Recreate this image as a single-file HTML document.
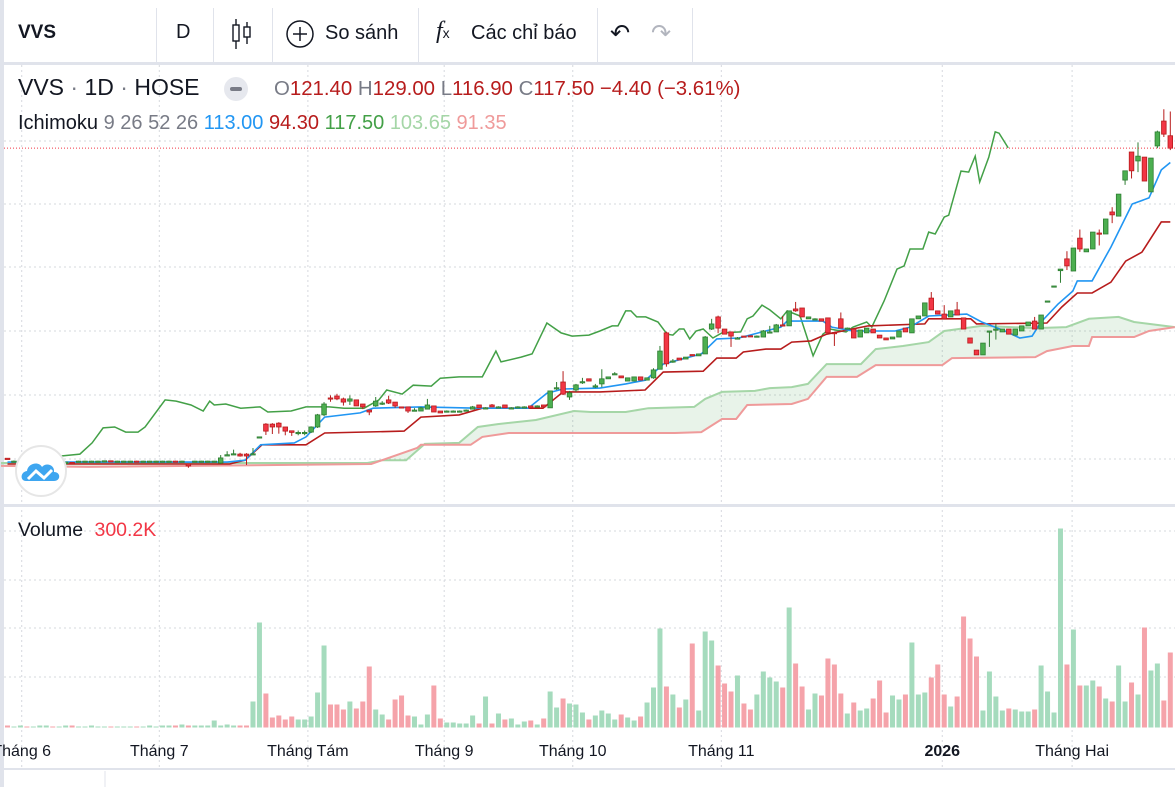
<!DOCTYPE html>
<html><head><meta charset="utf-8">
<style>
html,body{margin:0;padding:0;background:#fff;width:1175px;height:787px;overflow:hidden;font-family:"Liberation Sans","Noto Sans CJK SC",sans-serif;color:#131722}
#wrap{position:relative;width:1175px;height:787px}
.tb{position:absolute;top:0;left:0;width:1175px;height:62px;border-bottom:3px solid #e0e3eb}
.sep{position:absolute;top:8px;width:1px;height:54px;background:#e0e3eb}
.t{position:absolute;white-space:nowrap}
#leftstrip{position:absolute;left:0;top:0;width:4px;height:787px;background:#e0e3eb}
</style></head><body>
<div id="wrap">
<div class="tb">
  <div class="t" style="left:18px;top:22px;font-size:19px;font-weight:bold">VVS</div>
  <div class="sep" style="left:156px"></div>
  <div class="t" style="left:176px;top:21px;font-size:20px">D</div>
  <div class="sep" style="left:213px"></div>
  <svg class="t" style="left:230px;top:18px" width="24" height="32"><line x1="6" y1="1" x2="6" y2="31" stroke="#131722" stroke-width="1.4"/><rect x="3" y="7" width="6" height="16" fill="#fff" stroke="#131722" stroke-width="1.4"/><line x1="17" y1="4" x2="17" y2="26" stroke="#131722" stroke-width="1.4"/><rect x="14" y="9" width="6" height="10" fill="#fff" stroke="#131722" stroke-width="1.4"/></svg>
  <div class="sep" style="left:272px"></div>
  <svg class="t" style="left:285px;top:20px" width="30" height="30"><circle cx="15" cy="14" r="13" fill="none" stroke="#131722" stroke-width="1.5"/><line x1="15" y1="7" x2="15" y2="21" stroke="#131722" stroke-width="1.5"/><line x1="8" y1="14" x2="22" y2="14" stroke="#131722" stroke-width="1.5"/></svg>
  <div class="t" style="left:325px;top:22px;font-size:20px">So sánh</div>
  <div class="sep" style="left:418px"></div>
  <div class="t" style="left:436px;top:18px;font-size:24px;font-family:'Liberation Serif',serif;font-style:italic">f<span style="font-size:14px;font-style:normal;font-family:'Liberation Sans',sans-serif">x</span></div>
  <div class="t" style="left:471px;top:22px;font-size:20px">Các chỉ báo</div>
  <div class="sep" style="left:597px"></div>
  <div class="t" style="left:610px;top:19px;font-size:24px;color:#131722">↶</div>
  <div class="t" style="left:651px;top:19px;font-size:24px;color:#b2b5be">↷</div>
  <div class="sep" style="left:692px"></div>
</div>
<div id="leftstrip"></div>
<svg id="chart" width="1175" height="787" style="position:absolute;left:0;top:0"></svg>
<div class="t" style="left:18px;top:74px;font-size:23px">VVS<span style="color:#787b86"> · </span>1D<span style="color:#787b86"> · </span>HOSE</div>
<div class="t" style="left:224px;top:77px;width:24px;height:24px;border-radius:12px;background:#e6e8ee"><div style="position:absolute;left:6px;top:10px;width:12px;height:4px;border-radius:2px;background:#787b86"></div></div>
<div class="t" style="left:274px;top:78px;font-size:20.4px;color:#b71c1c"><span style="color:#787b86">O</span>121.40 <span style="color:#787b86">H</span>129.00 <span style="color:#787b86">L</span>116.90 <span style="color:#787b86">C</span>117.50 −4.40 (−3.61%)</div>
<div class="t" style="left:18px;top:112px;font-size:20px">Ichimoku <span style="color:#787b86">9 26 52 26</span> <span style="color:#2196f3">113.00</span> <span style="color:#b71c1c">94.30</span> <span style="color:#43a047">117.50</span> <span style="color:#a5d6a7">103.65</span> <span style="color:#ef9a9a">91.35</span></div>
<div class="t" style="left:18px;top:519px;font-size:19.5px">Volume <span style="color:#f23645;margin-left:6px">300.2K</span></div>
<div class="t" style="left:15px;top:445px;width:48px;height:48px;border-radius:26px;background:#fff;border:2px solid #e6e6e6">
<svg width="48" height="48"><path d="M9 34 C3 34 3 25 10 24 C11 16 22 14 25 20 C29 15 38 18 37 25 C44 25 44 34 37 34 Z" fill="#3ea6f0"/><polyline points="11,32 19,24 27,31 35,23" fill="none" stroke="#fff" stroke-width="3"/></svg></div>
</div>
<script>
// ---- data ----
const opens=[20.3,19.4,19.4,19.5,19.3,19.4,19.4,19.5,19.4,18.6,19.0,19.4,19.4,19.3,19.4,19.4,19.5,19.4,19.4,19.4,19.4,19.3,19.4,19.4,19.4,19.4,19.4,19.3,18.5,19.3,19.4,19.3,19.4,
18.8,21.0,21.4,21.6,21.6,21.4,26.9,31.0,31.0,31.3,30.1,28.9,28.0,28.0,28.5,30.1,33.9,39.2,39.8,38.9,38.2,38.6,37.3,35.4,36.7,37.6,38.6,37.9,36.4,36.4,35.4,35.1,35.7,36.7,35.1,35.1,35.1,35.1,35.4,35.7,37.0,36.1,37.0,36.4,37.0,36.1,36.4,36.4,36.7,36.7,37.0,36.1,42.3,44.2,39.5,41.7,44.2,45.2,42.9,43.6,45.2,46.7,46.1,44.5,44.5,45.8,44.8,45.5,48.2,59.6,50.8,51.7,51.4,52.8,52.4,53.0,60.8,64.6,60.8,59.9,58.0,58.6,58.7,58.6,58.3,59.9,59.9,62.1,61.8,67.1,67.4,64.0,64.0,64.0,64.3,59.7,64.0,61.1,60.8,58.3,59.6,60.8,58.9,58.0,57.7,58.3,61.1,59.6,64.0,64.9,70.5,66.5,65.5,64.6,66.8,64.3,58.0,54.2,52.7,60.1,60.5,59.9,60.8,58.9,60.2,61.8,63.3,60.8,69.5,74.2,79.1,82.8,79.0,89.3,85.0,85.9,90.9,90.6,97.5,96.2,107.5,116.3,113.5,114.7,103.8,118.2,126.0,121.4];
const closes=[19.9,19.4,19.5,19.4,19.4,19.4,19.5,19.4,19.4,19.1,18.6,19.4,19.4,19.4,19.4,19.5,19.4,19.4,19.4,19.4,19.3,19.4,19.4,19.4,19.4,19.4,19.3,19.4,17.9,19.4,19.4,19.4,19.4,
20.4,21.4,21.7,21.0,21.0,21.7,27.0,28.8,30.1,30.1,28.8,28.4,28.4,28.4,30.1,33.9,37.3,38.9,38.9,37.9,38.9,36.7,36.4,34.8,38.2,37.6,37.6,36.7,36.1,35.1,35.4,36.1,37.0,34.8,34.5,35.1,35.1,35.1,35.4,36.4,36.1,36.1,36.4,36.4,36.1,36.1,36.4,36.4,36.1,36.7,36.4,41.4,42.4,40.4,40.8,43.3,44.3,44.5,43.0,45.2,45.8,46.8,45.5,45.5,45.8,44.8,45.5,48.0,53.9,49.9,50.8,51.1,52.0,52.4,53.0,58.3,62.4,61.1,59.2,58.6,58.0,58.3,58.5,58.6,60.2,59.9,62.1,61.8,66.5,66.5,64.6,64.6,64.0,63.3,59.6,59.5,61.1,61.1,58.0,60.5,61.1,59.6,58.0,57.4,58.3,60.2,59.9,64.0,64.9,69.0,66.8,65.5,64.0,66.5,65.2,60.8,56.4,52.7,56.4,60.2,60.8,60.8,59.2,60.8,61.8,63.0,60.8,65.2,69.6,74.3,79.6,80.6,86.2,85.9,85.9,91.2,90.6,95.3,96.6,103.1,110.4,110.4,115.0,107.2,114.4,122.6,121.9,117.5];
const highs=[20.3,19.6,19.6,19.6,19.5,19.5,19.6,19.6,19.5,19.2,19.1,19.5,19.5,19.5,19.5,19.6,19.6,19.5,19.5,19.5,19.5,19.5,19.5,19.5,19.5,19.5,19.5,19.5,18.5,19.5,19.5,19.5,19.5,
21.3,22.5,23.0,22.0,21.9,23.5,27.0,31.3,31.3,31.6,30.1,28.9,29.0,29.0,30.3,34.2,37.9,40.0,40.5,39.3,40.0,38.6,37.3,35.4,39.5,38.2,39.9,37.9,36.4,36.4,36.0,36.4,38.9,36.7,35.1,35.3,35.3,35.3,35.6,36.7,37.0,36.3,37.3,36.6,37.0,36.3,36.6,36.6,36.7,36.9,37.0,41.4,44.2,47.6,41.4,43.6,45.5,45.2,43.6,48.2,45.8,47.3,46.1,45.5,45.8,45.8,45.5,48.5,55.5,60.0,51.4,51.7,52.0,52.8,53.0,58.6,64.0,65.0,60.8,59.9,58.3,58.6,58.7,58.8,60.5,61.8,62.4,64.9,66.5,69.3,67.4,64.6,64.2,64.0,64.3,59.7,66.0,61.3,60.8,60.5,61.1,60.8,58.9,58.0,58.3,60.2,61.1,64.0,64.9,69.0,72.4,66.5,68.3,66.5,69.3,64.3,58.0,54.2,56.4,60.2,62.5,60.8,60.8,58.9,60.8,61.8,64.6,65.2,69.6,74.3,79.6,85.2,86.2,92.0,85.9,91.2,92.0,95.3,99.0,103.1,110.4,116.3,119.3,114.7,114.4,123.0,129.7,129.0];
const lows=[19.9,19.2,19.3,19.3,19.2,19.3,19.3,19.3,19.3,18.2,18.4,19.3,19.3,19.2,19.3,19.3,19.3,19.3,19.3,19.3,19.2,19.2,19.3,19.3,19.3,19.3,19.2,19.2,17.3,19.2,19.3,19.2,19.3,
18.5,21.0,21.3,20.8,18.2,21.4,26.9,27.6,27.9,28.0,27.5,27.3,27.5,27.5,28.2,29.8,33.5,38.0,38.5,36.8,37.0,36.7,35.7,33.8,36.4,37.0,37.3,36.1,36.1,34.5,35.1,35.1,35.7,34.8,34.5,35.0,35.0,35.0,35.3,35.7,36.1,35.9,36.4,36.2,36.1,35.9,36.2,36.2,36.1,36.5,36.4,36.1,41.7,40.1,38.6,41.1,43.6,44.5,42.3,42.6,45.2,46.4,45.5,44.5,44.5,44.8,44.8,45.2,48.2,49.0,50.2,51.1,51.4,52.4,52.4,53.0,60.5,59.5,59.2,55.2,57.7,58.3,58.5,58.4,58.3,59.7,59.9,61.8,61.8,66.2,64.6,64.0,63.8,63.3,59.6,55.5,61.1,60.9,58.0,58.3,59.6,59.6,58.0,57.4,57.7,58.3,59.9,59.6,64.0,64.9,66.8,65.5,64.0,64.6,65.2,60.8,56.4,52.7,52.7,55.2,57.5,59.9,59.2,58.9,60.2,61.8,60.8,60.8,69.4,74.1,75.3,79.3,79.0,85.0,85.0,85.9,87.0,90.6,94.0,96.2,106.0,108.0,110.0,107.2,103.8,117.5,121.0,116.9];
// volume in thousand shares
const volumes=[8,4,8,4,4,8,8,4,4,8,8,4,4,8,4,4,4,4,4,4,4,4,8,4,8,8,8,12,8,8,8,8,28,8,12,8,8,8,
104,420,136,40,48,32,44,32,32,44,140,328,92,92,72,104,76,104,244,72,52,32,112,128,48,44,12,52,168,36,20,20,16,16,48,16,124,16,56,32,36,12,24,28,12,36,144,80,116,96,92,60,32,48,68,56,32,52,40,28,44,100,160,396,164,132,80,112,336,68,384,348,248,176,144,208,96,72,132,224,200,184,160,480,256,164,72,136,128,276,252,136,56,100,68,76,116,188,60,128,112,132,340,132,140,200,252,132,84,124,444,356,284,68,224,124,68,76,72,64,64,72,248,144,60,796,252,392,168,168,188,164,116,104,248,104,180,132,400,228,256,108,300];
const tenkan=[[0,19.1],[34,19.1],[36.8,19.7],[39.2,24.5],[44.4,25.1],[46.2,27.0],[49.1,33.2],[54.6,34.5],[56.6,36.0],[64,36.4],[72.8,36.0],[80.6,36.0],[83.5,40.7],[86,42.0],[91.7,42.3],[95.7,43.6],[98.8,44.8],[101.5,49.8],[107.4,53.0],[109.8,57.7],[113.2,58.0],[119.7,61.4],[120.7,63.3],[126.2,63.3],[127.6,61.4],[130.9,60.2],[137.4,60.2],[139.7,61.4],[142.6,64.9],[148.5,65.5],[150.8,63.0],[154.4,60.2],[156.7,58.0],[158.6,58.6],[160,63.0],[162.6,68.6],[164.9,72.7],[165.6,75.9],[167.9,75.9],[170.8,86.5],[174.1,100.0],[176.7,101.9],[178.6,110.7],[180,113.0]];
const kijun=[[0,18.5],[34.4,18.5],[36.8,19.7],[39.4,24.5],[46.2,24.5],[49.1,28.2],[61.4,28.8],[64,33.2],[69.9,33.9],[73.5,36.0],[82.9,36.0],[86,41.1],[91.7,41.1],[98.7,41.7],[101.5,47.3],[107.7,47.6],[109.8,51.7],[112.8,51.7],[113.9,53.6],[117.4,54.5],[119.7,54.5],[121.4,56.7],[124.4,57.1],[126.8,59.2],[133.2,61.8],[142,62.4],[142.6,64.0],[149.1,64.0],[150,62.4],[160.9,62.7],[163.2,67.7],[165.6,72.1],[167.9,72.1],[170.8,75.5],[173.1,82.1],[175.6,84.9],[178.6,94.4],[180,94.4]];
const spanA=[[-1,18.8],[55.7,18.8],[58.1,19.7],[61.7,19.7],[64.6,24.8],[69.9,25.1],[72.8,30.1],[75.9,31.0],[81.8,32.3],[87.7,35.1],[90.3,34.8],[95.7,34.8],[99.2,36.0],[106.3,36.4],[108,38.9],[110.6,41.1],[115.7,41.4],[118,42.3],[121.4,42.6],[123.9,43.6],[126.8,49.8],[132.1,49.8],[134.4,54.5],[138.6,55.5],[142.6,56.7],[145,60.2],[150.8,61.8],[159.1,61.1],[163.9,61.4],[167.4,64.0],[172,64.6],[174.4,63.0],[176.7,62.4],[180.7,61.4]];
const spanB=[[-1,17.9],[12.5,17.6],[56.3,18.5],[63.4,23.5],[64,24.5],[71.7,24.5],[73.5,27.0],[77.6,28.2],[103.3,28.2],[107.4,28.5],[110.6,32.6],[112.8,32.6],[114.5,37.0],[121.4,37.3],[123.9,38.9],[126.8,45.8],[131.5,45.8],[134.4,49.5],[144.7,49.5],[146.2,51.7],[159.1,52.0],[160.9,53.9],[164.9,55.5],[167.4,55.5],[167.9,58.3],[174.4,58.3],[176.7,60.2],[180.7,61.4]];
const chikou=[[8.3,21.0],[11.2,21.6],[13.1,25.1],[14.8,29.8],[16.6,30.1],[18.3,28.5],[20.2,28.5],[21.3,30.1],[24.4,38.6],[26.1,38.2],[28.4,37.0],[30.3,35.1],[31.3,38.2],[32,37.0],[33.8,37.3],[36.1,36.0],[39.1,36.4],[40.3,34.8],[43.9,35.1],[46.2,36.4],[49.8,36.4],[52.1,36.0],[55.2,36.0],[57.5,38.6],[58.7,41.7],[61.1,40.4],[62.8,43.2],[65.6,42.9],[67,45.4],[69.9,45.8],[73.5,45.8],[75.6,53.9],[76.4,50.5],[79.5,52.0],[81.2,53.0],[83.5,62.7],[85.7,59.6],[87.4,58.6],[90,58.9],[91.7,60.2],[93.6,61.8],[94.5,61.8],[95.7,66.5],[96.5,66.5],[97.4,64.6],[98.8,64.6],[100.7,63.0],[102.1,59.2],[103,58.9],[104,60.8],[104.7,60.8],[105.6,57.7],[106.6,60.2],[107.7,60.8],[109.2,58.0],[110.6,59.6],[113.5,59.9],[114.5,64.0],[115.4,64.9],[116.8,68.3],[118,66.8],[119.7,64.0],[120.7,66.5],[122.7,64.9],[124.7,52.4],[126.2,59.2],[127.3,60.8],[129.8,59.9],[130.9,61.4],[133,63.0],[133.8,61.4],[135.7,69.6],[137.7,79.6],[138.8,80.6],[139.7,85.9],[141.7,85.9],[142.6,91.2],[143.6,90.6],[145,95.9],[145.7,96.5],[147.6,110.3],[148.8,110.0],[149.8,115.0],[150.5,106.9],[151.9,114.7],[152.9,122.6],[153.5,122.2],[154.9,117.6]];
const monthLabels=["Tháng 6","Tháng 7","Tháng Tám","Tháng 9","Tháng 10","Tháng 11","2026","Tháng Hai"];
const monthIdx=[2.2,23.5,46.5,67.6,87.5,110.5,144.7,164.8];
const lastPrice=117.5;

// ---- scales ----
const xAt=i=>7.5+6.46*i;
const yAt=p=>523-3.19*p;
const vAt=v=>727.5-v/4;
const NS="http://www.w3.org/2000/svg";
const svg=document.getElementById('chart');
function mk(tag,attrs,parent){const e=document.createElementNS(NS,tag);for(const k in attrs)e.setAttribute(k,attrs[k]);(parent||svg).appendChild(e);return e;}

// grid
const grid=mk('g',{});


[141,204,267,331,395,459,531,580,628,677].forEach(y=>{mk('line',{x1:4,x2:1175,y1:y,y2:y,stroke:'#d6d8de','stroke-dasharray':'2 3','stroke-width':1},grid);});
monthIdx.forEach(i=>{const x=xAt(i);mk('line',{x1:x,x2:x,y1:65,y2:768,stroke:'#d6d8de','stroke-dasharray':'2 3','stroke-width':1},grid);});
const sep1=mk('rect',{x:4,y:504,width:1171,height:3,fill:'#e0e3eb'});


const sep2=mk('rect',{x:4,y:768,width:1171,height:2,fill:'#e0e3eb'});


mk('line',{x1:105,x2:105,y1:771,y2:787,stroke:'#e0e3eb'});

function pts(arr){return arr.map(d=>xAt(d[0]).toFixed(1)+','+yAt(d[1]).toFixed(1)).join(' ');}
const cloudPts=spanA.map(d=>xAt(d[0]).toFixed(1)+','+yAt(d[1]).toFixed(1)).concat(spanB.slice().reverse().map(d=>xAt(d[0]).toFixed(1)+','+yAt(d[1]).toFixed(1))).join(' ');
const cloud=mk('polygon',{points:cloudPts,fill:'rgba(67,160,71,0.12)'});


const la=mk('polyline',{points:pts(spanA),fill:'none',stroke:'#a5d6a7','stroke-width':2});


const lb=mk('polyline',{points:pts(spanB),fill:'none',stroke:'#ef9a9a','stroke-width':2});


const lc=mk('polyline',{points:pts(chikou),fill:'none',stroke:'#43a047','stroke-width':1.5});


const lk=mk('polyline',{points:pts(kijun),fill:'none',stroke:'#b71c1c','stroke-width':1.6});


const lt=mk('polyline',{points:pts(tenkan),fill:'none',stroke:'#2196f3','stroke-width':1.6});



const vg=mk('g',{});


volumes.forEach((v,i)=>{
  const up=closes[i]>=opens[i];
  const r=mk('rect',{x:xAt(i)-2.5,y:vAt(v),width:5,height:727.5-vAt(v),fill:up?'#a5dbbd':'#f5a3aa'},vg);
  
  
});
const cg=mk('g',{});


opens.forEach((o,i)=>{
  const c=closes[i],up=c>=o,x=xAt(i);
  const col=up?'#2e7d32':'#b71c1c',fill=up?'#4caf50':'#f23645';
  const g=mk('g',{},cg);
  
  
  mk('line',{x1:x,x2:x,y1:yAt(highs[i]),y2:yAt(lows[i]),stroke:col,'stroke-width':1},g);
  const top=yAt(Math.max(o,c)),h=Math.max(1.2,yAt(Math.min(o,c))-top);
  mk('rect',{x:x-2.3,y:top,width:4.6,height:h,fill:fill,stroke:col,'stroke-width':0.8},g);
});
const lp=mk('line',{x1:4,x2:1175,y1:yAt(lastPrice),y2:yAt(lastPrice),stroke:'#f23645','stroke-dasharray':'1 2','stroke-width':1});


monthLabels.forEach((t,i)=>{
  const tx=mk('text',{x:xAt(monthIdx[i]),y:756,'text-anchor':'middle','font-size':16,fill:'#131722','font-family':'Liberation Sans, sans-serif','font-weight':t==='2026'?'bold':'normal'});
  tx.textContent=t;
  
  
});
</script>
</body></html>
